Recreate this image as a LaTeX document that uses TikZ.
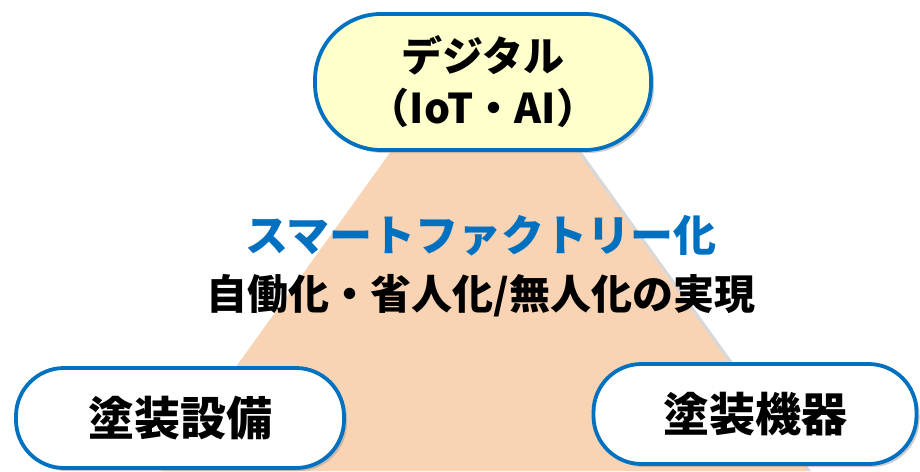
\documentclass[tikz,border=0pt]{standalone}
\usepackage{fontspec}
\newfontfamily\jpfont{Noto Sans CJK JP}
\usetikzlibrary{shadows}

\definecolor{frameblue}{HTML}{0070C0}
\definecolor{digiyellow}{HTML}{FFFFCC}
\definecolor{peach}{HTML}{F9D4B4}

\tikzset{
    pill/.style={draw=frameblue, line width=3.8pt, rounded corners=48pt,
        minimum width=328pt, minimum height=100pt, fill=white,
        drop shadow={shadow xshift=3pt, shadow yshift=-3pt, fill=black!40, opacity=0.5},
        font=\jpfont\bfseries\fontsize{46}{52}\selectfont},
}

\begin{document}
\begin{tikzpicture}[x=1pt, y=-1pt]
        \useasboundingbox (0,0) rectangle (920,471);

        % Base triangle
        \fill[peach, drop shadow={shadow xshift=4pt, shadow yshift=0pt, fill=black!30, opacity=0.5}]
            (484,22) -- (807,471) -- (161,471) -- cycle;

        % Top: digital
        \node[pill, fill=digiyellow, minimum width=336pt, minimum height=136pt,
              rounded corners=66pt, align=center,
              font=\jpfont\bfseries\fontsize{41}{52}\selectfont] (digital) at (483,82)
              {デジタル\\（IoT・AI）};

        % Middle texts
        \node[text=frameblue, font=\jpfont\bfseries\fontsize{43}{50}\selectfont] (smart) at (481,236)
              {スマートファクトリー化};
        \node[font=\jpfont\bfseries\fontsize{41}{46}\selectfont] (goal) at (481,296)
              {自働化・省人化/無人化の実現};

        % Bottom nodes
        \node[pill, minimum width=328pt] (equip) at (180,418) {塗装設備};
        \node[pill, minimum width=323pt] (gun) at (755,414) {塗装機器};
\end{tikzpicture}
\end{document}
